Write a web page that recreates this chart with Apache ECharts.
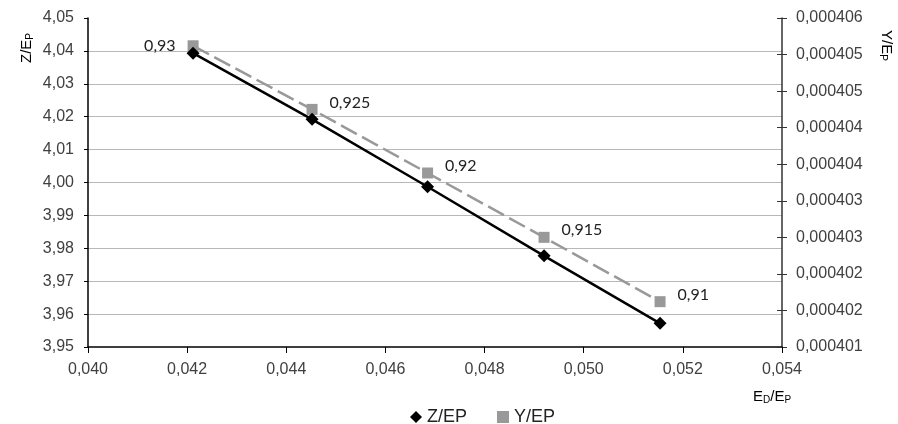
<!DOCTYPE html>
<html>
<head>
  <meta charset="utf-8" />
  <title>Z/EP Y/EP</title>
  <style>
    html, body { margin: 0; padding: 0; background: #fff; }
    #chart { width: 898px; height: 424px; }
  </style>
</head>
<body>
  <div id="chart"></div>
  <script src="https://cdn.jsdelivr.net/npm/echarts@6/dist/echarts.min.js"></script>
  <script>
    // E_D/E_P values (x)
    var xVals = [0.04212, 0.04452, 0.04685, 0.04920, 0.05154];
    // Z/EP (left axis)
    var zVals = [4.0393, 4.0192, 3.9987, 3.9777, 3.9572];
    // Y/EP (right axis)
    var yVals = [0.00040512, 0.00040425, 0.00040338, 0.00040250, 0.00040162];
    // point labels on Y/EP
    var labelVals = ['0,93', '0,925', '0,92', '0,915', '0,91'];

    var _font = 'Liberation Sans, Arial, sans-serif';
    var _txt = '#404040';
    var _fs = 16;

    function pairs(xs, ys) {
      var out = [];
      for (var i = 0; i < xs.length; i++) out.push([xs[i], ys[i]]);
      return out;
    }

    var yData = pairs(xVals, yVals).map(function (p, i) {
      return {
        value: p,
        label: {
          show: true,
          formatter: labelVals[i],
          position: i === 0 ? 'left' : 'right',
          distance: 12,
          offset: i === 0 ? [0, 0] : [0, -7]
        }
      };
    });

    // excel-style rounding of the right axis labels (6 decimals, half up)
    var rightLabel = function (v) {
      var k = Math.round(Math.round(v * 1e7) / 10);
      return '0,000' + k;
    };

    var subRich = {
      n: { fontSize: 15, fontFamily: _font, color: _txt },
      s: { fontSize: 10, fontFamily: _font, color: _txt, padding: [6, 0, 0, 0] }
    };

    var myChart = echarts.init(document.getElementById('chart'));
    var option = {
      animation: false,
      grid: { left: 88, right: 116, top: 18, bottom: 77 },
      legend: {
        top: 403,
        left: 405,
        itemGap: 30,
        itemWidth: 12,
        itemHeight: 12,
        textStyle: { fontSize: 18, fontFamily: _font, color: '#222' },
        data: [{ name: 'Z/EP', icon: 'diamond' }, { name: 'Y/EP', icon: 'rect' }]
      },
      xAxis: {
        type: 'value',
        min: 0.040, max: 0.054, interval: 0.002,
        axisLine: { lineStyle: { color: '#000', width: 1.5 } },
        axisTick: { show: true, length: 6, lineStyle: { color: '#000' } },
        axisLabel: {
          margin: 15, fontSize: _fs, fontFamily: _font, color: _txt,
          formatter: function (v) { return v.toFixed(3).replace('.', ','); }
        },
        splitLine: { show: false }
      },
      yAxis: [{
        type: 'value',
        min: 3.95, max: 4.05, interval: 0.01,
        axisLine: { show: true, lineStyle: { color: '#000', width: 1.5 } },
        axisTick: { show: true, length: 4, lineStyle: { color: '#000' } },
        axisLabel: {
          margin: 14, fontSize: _fs, fontFamily: _font, color: _txt,
          formatter: function (v) { return v.toFixed(2).replace('.', ','); }
        },
        splitLine: { show: true, showMaxLine: false, showMinLine: false, lineStyle: { color: '#b8b8b8', width: 1 } }
      }, {
        type: 'value',
        position: 'right',
        min: 0.000401, max: 0.0004055, interval: 0.0000005,
        axisLine: { show: true, lineStyle: { color: '#333', width: 1.5 } },
        axisTick: { show: true, length: 5, lineStyle: { color: '#333' } },
        axisLabel: { margin: 14, fontSize: _fs, fontFamily: _font, color: _txt, formatter: rightLabel },
        splitLine: { show: false }
      }, {
        // inside ticks for the cross marks on the right axis
        type: 'value',
        position: 'right',
        min: 0.000401, max: 0.0004055, interval: 0.0000005,
        axisLine: { show: false },
        axisTick: { show: true, inside: true, length: 5, lineStyle: { color: '#333' } },
        axisLabel: { show: false },
        splitLine: { show: false }
      }],
      series: [{
        name: 'Z/EP',
        type: 'line',
        yAxisIndex: 0,
        data: pairs(xVals, zVals),
        symbol: 'diamond',
        symbolSize: 13,
        itemStyle: { color: '#000' },
        lineStyle: { color: '#000', width: 2.5 },
        z: 3
      }, {
        name: 'Y/EP',
        type: 'line',
        yAxisIndex: 1,
        data: yData,
        symbol: 'rect',
        symbolSize: 11,
        itemStyle: { color: '#999' },
        lineStyle: { color: '#999', width: 2.5, type: [18, 6] },
        label: { fontSize: 16, fontFamily: 'Lato, Open Sans, sans-serif', color: '#222' },
        z: 2
      }],
      graphic: [{
        type: 'text',
        x: 19, y: 63,
        rotation: Math.PI / 2,
        style: { text: '{n|Z/E}{s|P}', rich: subRich }
      }, {
        type: 'text',
        x: 894, y: 30,
        rotation: -Math.PI / 2,
        style: { text: '{n|Y/E}{s|P}', rich: subRich }
      }, {
        type: 'text',
        x: 753, y: 389,
        style: { text: '{n|E}{s|D}{n|/E}{s|P}', rich: subRich }
      }]
    };
    myChart.setOption(option);
  </script>
</body>
</html>
